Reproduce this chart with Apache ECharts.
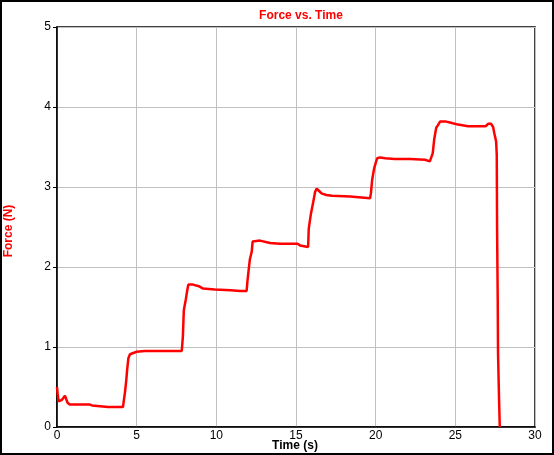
<!DOCTYPE html>
<html>
<head>
<meta charset="utf-8">
<script src="https://cdn.jsdelivr.net/npm/echarts@6/dist/echarts.min.js"></script>
<style>
html,body{margin:0;padding:0;background:#fff;}
#c{width:554px;height:455px;}
</style>
</head>
<body>
<div id="c"></div>
<script>
var timeS = [0, 0.04, 0.1, 0.19, 0.31, 0.38, 0.5, 0.56, 0.67, 0.82, 1.5, 2.07, 2.2, 2.7, 2.76, 3.2, 3.6, 4.14,
  4.2, 4.27, 4.35, 4.4, 4.48, 4.58, 4.7, 5.0, 5.5, 6.0, 7.0, 7.83,
  7.9, 7.96, 8.08, 8.16, 8.24, 8.54, 8.9, 9.17, 9.9, 10.9, 11.5, 11.9,
  11.96, 12.1, 12.22, 12.28, 12.37, 12.74, 13.37, 14.0, 15.1, 15.25, 15.76,
  15.8, 15.94, 16.07, 16.2, 16.3, 16.45, 16.6, 16.9, 17.26, 18.4, 19.65,
  19.7, 19.78, 19.9, 20.03, 20.1, 20.17, 20.28, 20.6, 21.2, 22.16, 23.1, 23.4, 23.52,
  23.58, 23.67, 23.8, 23.9, 24.05, 24.15, 24.36, 24.6, 25.17, 25.8, 26.9, 27.07, 27.24,
  27.37, 27.45, 27.56, 27.6, 27.62, 27.66, 27.68, 27.75, 27.79];
var forceN = [0.5, 0.42, 0.32, 0.34, 0.34, 0.36, 0.39, 0.37, 0.30, 0.28, 0.28, 0.28, 0.27, 0.26, 0.25, 0.25, 0.25, 0.25,
  0.34, 0.44, 0.59, 0.71, 0.86, 0.91, 0.93, 0.94, 0.95, 0.95, 0.95, 0.95,
  1.13, 1.46, 1.59, 1.69, 1.78, 1.78, 1.76, 1.73, 1.72, 1.71, 1.70, 1.70,
  1.84, 2.09, 2.19, 2.32, 2.34, 2.33, 2.30, 2.29, 2.29, 2.27, 2.25,
  2.48, 2.67, 2.80, 2.94, 2.98, 2.95, 2.92, 2.90, 2.89, 2.88, 2.86,
  2.92, 3.09, 3.23, 3.32, 3.36, 3.38, 3.37, 3.36, 3.35, 3.35, 3.34, 3.32, 3.30,
  3.42, 3.59, 3.74, 3.77, 3.82, 3.84, 3.82, 3.81, 3.78, 3.76, 3.76, 3.79, 3.79,
  3.75, 3.67, 3.57, 3.40, 2.49, 1.60, 0.92, 0.30, 0];
var xTicks = [0, 5, 10, 15, 20, 25, 30];
var yTicks = [0, 1, 2, 3, 4, 5];

var pts = timeS.map(function(t, i){ return [t, forceN[i]]; });
var font = 'Liberation Sans, Arial, sans-serif';
var chart = echarts.init(document.getElementById('c'), null, {renderer: 'canvas'});
chart.setOption({
  backgroundColor: '#ffffff',
  animation: false,
  title: {
    text: 'Force vs. Time', left: 296, top: 5, textAlign: 'center',
    textStyle: {color: '#ff0000', fontFamily: font, fontSize: 12, fontWeight: 'bold'}
  },
  grid: {left: 57, top: 27, right: 19, bottom: 28, show: true, borderColor: '#000', borderWidth: 1.5,
         backgroundColor: '#fff', containLabel: false, outerBoundsMode: 'none'},
  xAxis: {
    type: 'value', min: xTicks[0], max: xTicks[xTicks.length-1], interval: 5,
    axisLine: {show: true, lineStyle: {color: '#000', width: 1.5}},
    axisTick: {show: false},
    axisLabel: {color: '#000', fontFamily: font, fontSize: 12, margin: 3},
    splitLine: {show: true, lineStyle: {color: '#c0c0c0', width: 1}}
  },
  yAxis: {
    type: 'value', min: yTicks[0], max: yTicks[yTicks.length-1], interval: 1,
    axisLine: {show: true, lineStyle: {color: '#000', width: 1.5}},
    axisTick: {show: true, inside: false, length: 4, lineStyle: {color: '#000'}},
    axisLabel: {color: '#000', fontFamily: font, fontSize: 12, margin: 6},
    splitLine: {show: true, lineStyle: {color: '#c0c0c0', width: 1}}
  },
  graphic: [
    {type: 'rect', shape: {x: 1, y: 1, width: 552, height: 453}, style: {fill: 'none', stroke: '#000', lineWidth: 2}, silent: true},
    {type: 'text', x: 9, y: 231, rotation: Math.PI/2,
     style: {text: 'Force (N)', fill: '#ff0000', font: 'bold 12px ' + font, textAlign: 'center', textVerticalAlign: 'middle'}},
    {type: 'text', x: 295, y: 446,
     style: {text: 'Time (s)', fill: '#000', font: 'bold 12px ' + font, textAlign: 'center', textVerticalAlign: 'middle'}}
  ],
  series: [{
    type: 'line', data: pts, showSymbol: false, symbol: 'none',
    lineStyle: {color: '#ff0000', width: 2.5}, clip: true
  }]
});
</script>
</body>
</html>
